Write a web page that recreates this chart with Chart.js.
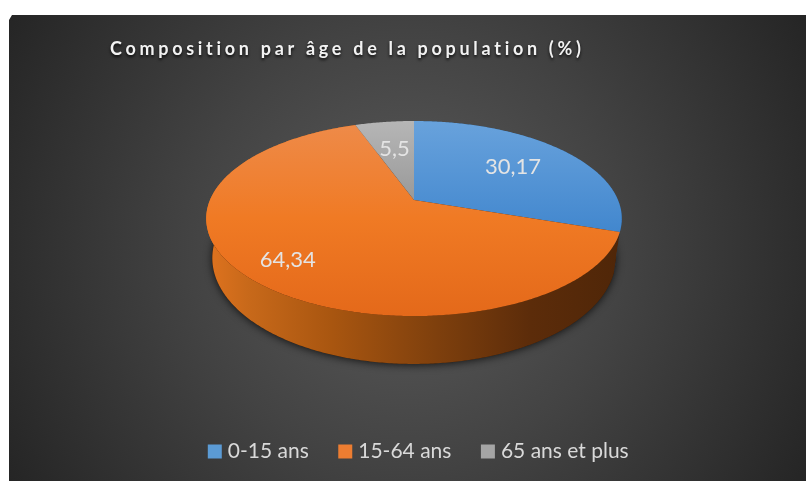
<!DOCTYPE html>
<html>
<head>
<meta charset="utf-8">
<title>Composition par âge</title>
<style>
html, body { margin: 0; padding: 0; background: #fff; }
canvas { display: block; }
</style>
<script src="https://cdn.jsdelivr.net/npm/chart.js@4"></script>
</head>
<body>
<canvas id="ageChart" width="806" height="481"></canvas>
<script>
const chartTitle = 'Composition par âge de la population (%)';
const categories = ['0-15 ans', '15-64 ans', '65 ans et plus'];
const shares = [30.17, 64.34, 5.5];

const legendColors = ['#5b9bd5', '#ed7d31', '#a5a5a5'];
const topGradients = [
    ['#68a2dc', '#4287ce'],
    ['#ee8b4a', '#f07a24', '#e4691a'],
    ['#b6b6b6', '#999999']
];
const wallStops = [[0, '#e0731f'], [0.1, '#c8691a'], [0.3, '#a95610'], [0.55, '#7f400d'], [0.78, '#5c2c0a'], [1, '#4f2608']];
const labelRadius = [0.64, 0.79, 0.62];

// perspective of the tilted disc: apex, half width, half depth
const topDisc = { cx: 414, cy: 200, a: 204, b: 94 };
const baseDisc = { cx: 414, cy: 238, a: 198, b: 102 };
const tilt = -0.19;

function project(disc, angle, r) {
    const u = Math.cos(angle) * r;
    const v = Math.sin(angle) * r;
    const w = 1 + tilt * v;
    return { x: disc.cx + disc.a * u / w, y: disc.cy + disc.b * v / w };
}

function traceRim(ctx, disc, from, to) {
    const steps = Math.max(2, Math.ceil(Math.abs(to - from) / 0.01));
    for (let i = 0; i <= steps; i++) {
        const p = project(disc, from + (to - from) * i / steps, 1);
        ctx.lineTo(p.x, p.y);
    }
}

const backgroundPanel = {
    id: 'backgroundPanel',
    beforeDraw(chart) {
        const ctx = chart.ctx;
        const g = ctx.createRadialGradient(407, 248, 10, 407, 248, 470);
        g.addColorStop(0, '#5a5a5a');
        g.addColorStop(0.45, '#434343');
        g.addColorStop(1, '#242424');
        ctx.save();
        ctx.fillStyle = g;
        ctx.beginPath();
        ctx.moveTo(12, 15);
        ctx.lineTo(806, 15);
        ctx.lineTo(806, 481);
        ctx.lineTo(9, 481);
        ctx.lineTo(9, 20);
        ctx.closePath();
        ctx.fill();
        ctx.restore();
    }
};

const spacedTitle = {
    id: 'spacedTitle',
    afterDraw(chart) {
        const ctx = chart.ctx;
        ctx.save();
        ctx.font = 'bold 18px Lato';
        ctx.letterSpacing = '3.7px';
        ctx.fillStyle = '#f2f2f2';
        ctx.textBaseline = 'middle';
        ctx.shadowColor = 'rgba(0,0,0,0.8)';
        ctx.shadowBlur = 3;
        ctx.shadowOffsetY = 2;
        ctx.fillText(chartTitle, 110, 49);
        ctx.restore();
    }
};

const tiltedPie = {
    id: 'tiltedPie',
    beforeDatasetDraw(chart, args) {
        const ctx = chart.ctx;
        const arcs = args.meta.data;
        ctx.save();

        // soft shadow under the whole disc
        ctx.save();
        ctx.shadowColor = 'rgba(0,0,0,0.75)';
        ctx.shadowBlur = 9;
        ctx.shadowOffsetY = 1;
        ctx.fillStyle = '#3a1c06';
        ctx.beginPath();
        traceRim(ctx, baseDisc, 0, Math.PI * 2);
        ctx.closePath();
        ctx.fill();
        ctx.restore();

        const wall = ctx.createLinearGradient(206, 0, 622, 0);
        wallStops.forEach(s => wall.addColorStop(s[0], s[1]));
        [0, 1].forEach(i => {
            const arc = arcs[i];
            ctx.fillStyle = i === 0 ? '#27496b' : wall;
            ctx.beginPath();
            traceRim(ctx, topDisc, arc.startAngle, arc.endAngle);
            traceRim(ctx, baseDisc, arc.endAngle, arc.startAngle);
            ctx.closePath();
            ctx.fill();
        });

        arcs.forEach((arc, i) => {
            const stops = topGradients[i];
            const g = ctx.createLinearGradient(0, 121, 0, i === 1 ? 316 : (i === 0 ? 232 : 200));
            stops.forEach((c, k) => g.addColorStop(k / (stops.length - 1), c));
            ctx.fillStyle = g;
            ctx.beginPath();
            ctx.moveTo(topDisc.cx, topDisc.cy);
            traceRim(ctx, topDisc, arc.startAngle, arc.endAngle);
            ctx.closePath();
            ctx.fill();
        });

        ctx.font = '22px Lato';
        ctx.fillStyle = '#e4e4e4';
        ctx.textAlign = 'center';
        ctx.textBaseline = 'middle';
        arcs.forEach((arc, i) => {
            const p = project(topDisc, (arc.startAngle + arc.endAngle) / 2, labelRadius[i]);
            ctx.fillText(String(shares[i]).replace('.', ','), p.x, p.y);
        });
        ctx.restore();
        return false;
    }
};

new Chart(document.getElementById('ageChart'), {
    type: 'pie',
    data: {
        labels: categories,
        datasets: [{
            data: shares,
            backgroundColor: legendColors,
            borderWidth: 0
        }]
    },
    options: {
        responsive: false,
        animation: false,
        layout: { padding: { left: 35, bottom: 9 } },
        plugins: {
            tooltip: { enabled: false },
            title: { display: false },
            legend: {
                position: 'bottom',
                labels: {
                    color: '#d9d9d9',
                    font: { family: 'Lato', size: 21 },
                    boxWidth: 5,
                    boxHeight: 5,
                    padding: 34,
                    generateLabels: () => categories.map((text, i) => ({
                        text,
                        fillStyle: legendColors[i],
                        strokeStyle: legendColors[i],
                        lineWidth: 9,
                        fontColor: '#d9d9d9',
                        index: i
                    }))
                }
            }
        }
    },
    plugins: [backgroundPanel, tiltedPie, spacedTitle]
});
</script>
</body>
</html>
